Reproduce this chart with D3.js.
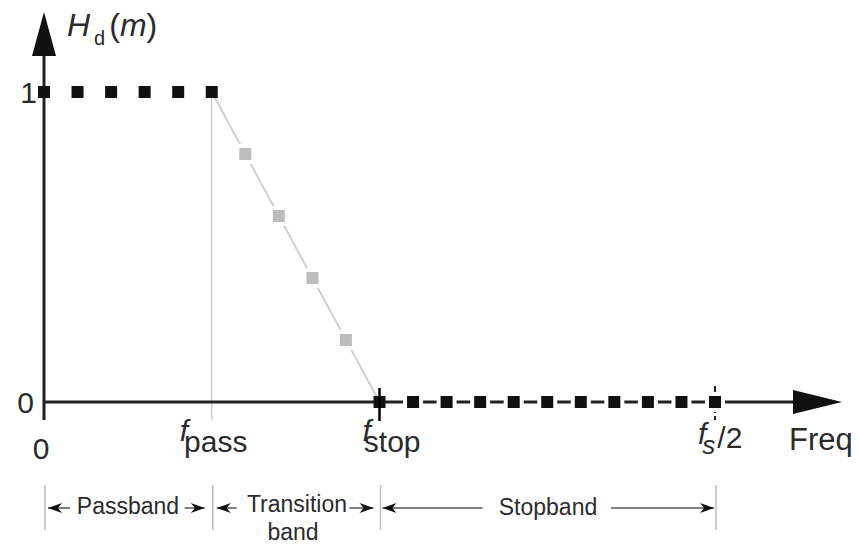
<!DOCTYPE html>
<html>
<head>
<meta charset="utf-8">
<script src="https://cdn.jsdelivr.net/npm/d3@7"></script>
<style>
  body { margin: 0; background: #fff; }
  svg { display: block; font-family: "Liberation Sans", Arial, sans-serif; }
  text { fill: #2b2b2b; }
</style>
</head>
<body>
<div id="chart"></div>
<script>
// frequency bins (index m) and desired response Hd(m)
var passbandBins = [0, 1, 2, 3, 4, 5];
var passbandValues = [1, 1, 1, 1, 1, 1];
var transitionBins = [6, 7, 8, 9];
var transitionValues = [0.8, 0.6, 0.4, 0.2];
var stopbandBins = [10, 11, 12, 13, 14, 15, 16, 17, 18, 19, 20];
var stopbandValues = [0, 0, 0, 0, 0, 0, 0, 0, 0, 0, 0];

var yTickValues = [0, 1];
var passBin = 5, stopBin = 10, nyqBin = 20;
var bandNames = ["Passband", "Transition", "band", "Stopband"];

var width = 859, height = 544;
var svg = d3.select("#chart").append("svg")
    .attr("width", width)
    .attr("height", height);

var x = d3.scaleLinear().domain([0, 20]).range([44, 715]);
var y = d3.scaleLinear().domain([0, 1]).range([402, 92]);

var dark = "#222";

// pass-band edge guide (light grey)
svg.append("line")
    .attr("x1", x(passBin)).attr("x2", x(passBin))
    .attr("y1", y(1)).attr("y2", 420)
    .attr("stroke", "#cfcfcf").attr("stroke-width", 1.5);

// transition slope line
svg.append("line")
    .attr("x1", x(passBin)).attr("y1", y(1))
    .attr("x2", x(stopBin)).attr("y2", y(0))
    .attr("stroke", "#d0d0d0").attr("stroke-width", 2);

// axes
svg.append("line")
    .attr("x1", x(0)).attr("x2", 800)
    .attr("y1", y(0)).attr("y2", y(0))
    .attr("stroke", dark).attr("stroke-width", 3);
svg.append("line")
    .attr("x1", x(0)).attr("x2", x(0))
    .attr("y1", 420).attr("y2", 50)
    .attr("stroke", dark).attr("stroke-width", 3);

// arrow heads on axes
svg.append("path")
    .attr("d", "M842," + y(0) + " L793," + (y(0) - 12) + " L793," + (y(0) + 12) + " Z")
    .attr("fill", "#111");
svg.append("path")
    .attr("d", "M" + x(0) + ",12 L" + (x(0) - 12) + ",56 L" + (x(0) + 12) + ",56 Z")
    .attr("fill", "#111");

// tick at fs/2
svg.append("line")
    .attr("x1", x(nyqBin)).attr("x2", x(nyqBin))
    .attr("y1", 386).attr("y2", 420)
    .attr("stroke", dark).attr("stroke-width", 2)
    .attr("stroke-dasharray", "7,3");

var sq = 12;
function squares(bins, vals, fill, halo) {
  svg.append("g").selectAll("rect")
    .data(bins)
    .enter().append("rect")
      .attr("x", function(d) { return x(d) - sq / 2; })
      .attr("y", function(d, i) { return y(vals[i]) - sq / 2; })
      .attr("width", sq).attr("height", sq)
      .attr("fill", fill)
      .attr("stroke", halo ? "#fff" : "none")
      .attr("stroke-width", halo ? 8 : 0)
      .attr("paint-order", "stroke");
}
squares(passbandBins, passbandValues, "#111", false);
squares(transitionBins, transitionValues, "#bdbdbd", true);
squares(stopbandBins.slice(1), stopbandValues.slice(1), "#111", true);
squares([stopBin], [0], "#111", false);

// tick through the f_stop square
svg.append("line")
    .attr("x1", x(stopBin)).attr("x2", x(stopBin))
    .attr("y1", 388).attr("y2", 421)
    .attr("stroke", "#000").attr("stroke-width", 2.5);

// y tick labels
svg.selectAll("text.ytick")
  .data(yTickValues)
  .enter().append("text")
    .attr("class", "ytick")
    .attr("x", function(d) { return d == 1 ? 37 : 34; })
    .attr("y", function(d) { return y(d) + 11; })
    .attr("text-anchor", "end")
    .attr("font-size", 30)
    .text(function(d) { return d; });

// y-axis title Hd(m)
var title = svg.append("text").attr("x", 67).attr("y", 36).attr("font-size", 32);
title.append("tspan").attr("font-style", "italic").text("H");
title.append("tspan").attr("font-size", 20).attr("dy", 9).attr("dx", 4).text("d");
title.append("tspan").attr("dy", -9).attr("dx", 4).text("(");
title.append("tspan").attr("font-style", "italic").text("m");
title.append("tspan").text(")");

// x labels
svg.append("text")
    .attr("x", x(0) - 3).attr("y", 459)
    .attr("text-anchor", "middle")
    .attr("font-size", 30)
    .text("0");

function fLabel(cx, sub, subDx) {
  var t = svg.append("text").attr("x", cx).attr("y", 441).attr("font-size", 30);
  t.append("tspan").attr("font-style", "italic").text("f");
  t.append("tspan").attr("dx", subDx).attr("dy", 11).text(sub);
}
fLabel(x(passBin) - 32, "pass", -4);
fLabel(x(stopBin) - 17, "stop", -7);
var nyq = svg.append("text").attr("x", x(nyqBin) - 17).attr("y", 448).attr("font-size", 30);
nyq.append("tspan").attr("font-style", "italic").attr("dy", -4).text("f");
nyq.append("tspan").attr("font-size", 26).attr("font-style", "italic").attr("dx", -4).attr("dy", 10).text("s");
nyq.append("tspan").attr("dx", 2).attr("dy", -6).text("/2");

svg.append("text")
    .attr("x", 789).attr("y", 450)
    .attr("font-size", 31)
    .text("Freq");

// band annotation row
var bandEdges = [0, passBin, stopBin, nyqBin];
svg.selectAll("line.sep")
  .data(bandEdges)
  .enter().append("line")
    .attr("class", "sep")
    .attr("x1", function(d) { return x(d) + 1; })
    .attr("x2", function(d) { return x(d) + 1; })
    .attr("y1", 485).attr("y2", 530)
    .attr("stroke", "#bdbdbd").attr("stroke-width", 1.5);

function arrowHead(tipX, yy, dir, tail) {
  var l = 14 * dir, h = 5;
  svg.append("line")
    .attr("x1", tipX).attr("x2", tipX - tail * dir)
    .attr("y1", yy).attr("y2", yy)
    .attr("stroke", "#555").attr("stroke-width", 1.5);
  svg.append("path")
    .attr("d", "M" + tipX + "," + yy +
               " L" + (tipX - l) + "," + (yy - h) +
               " L" + (tipX - l * 0.7) + "," + yy +
               " L" + (tipX - l) + "," + (yy + h) + " Z")
    .attr("fill", "#111");
}
var ay = 508;
arrowHead(x(0) + 4, ay, -1, 22);
arrowHead(x(passBin) - 7, ay, 1, 20);
arrowHead(x(passBin) + 5, ay, -1, 20);
arrowHead(x(stopBin) - 6, ay, 1, 24);
arrowHead(x(stopBin) + 3, ay, -1, 100);
arrowHead(x(nyqBin) - 1, ay, 1, 103);

svg.append("text").attr("x", 128).attr("y", 514)
    .attr("text-anchor", "middle").attr("font-size", 23).text(bandNames[0]);
svg.append("text").attr("x", 297).attr("y", 512)
    .attr("text-anchor", "middle").attr("font-size", 23).text(bandNames[1]);
svg.append("text").attr("x", 293).attr("y", 540)
    .attr("text-anchor", "middle").attr("font-size", 23).text(bandNames[2]);
svg.append("text").attr("x", 548).attr("y", 515)
    .attr("text-anchor", "middle").attr("font-size", 23).text(bandNames[3]);
</script>
</body>
</html>
